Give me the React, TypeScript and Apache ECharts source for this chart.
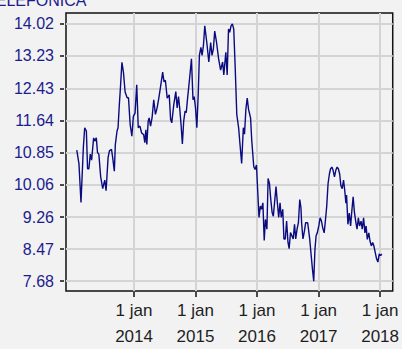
import React, { useEffect, useRef } from "react";
import * as echarts from "echarts";

const titleText = "TELEFONICA";

const dates = [
  "2013-01-26","2013-02-08","2013-02-20","2013-03-06","2013-03-14","2013-03-24","2013-03-31","2013-04-08","2013-04-16","2013-04-24",
  "2013-05-06","2013-05-13","2013-05-22","2013-05-29","2013-06-06","2013-06-17","2013-06-29","2013-07-11","2013-07-19","2013-07-31",
  "2013-08-08","2013-08-20","2013-08-27","2013-09-06","2013-09-12","2013-09-22","2013-09-28","2013-10-05","2013-10-13","2013-10-21",
  "2013-10-30","2013-11-09","2013-11-21","2013-11-29","2013-12-09","2013-12-19","2013-12-28","2014-01-07","2014-01-17","2014-01-26",
  "2014-02-05","2014-02-15","2014-02-27","2014-03-06","2014-03-12","2014-03-18","2014-03-26","2014-04-01","2014-04-09","2014-04-18",
  "2014-04-28","2014-05-08","2014-05-18","2014-05-28","2014-06-06","2014-06-20","2014-06-28","2014-07-06","2014-07-17","2014-07-29",
  "2014-08-06","2014-08-13","2014-08-25","2014-09-06","2014-09-14","2014-09-22","2014-09-29","2014-10-07","2014-10-15","2014-10-23",
  "2014-10-31","2014-11-07","2014-11-15","2014-11-27","2014-12-08","2014-12-17","2014-12-24","2015-01-01","2015-01-09","2015-01-17",
  "2015-01-24","2015-02-02","2015-02-09","2015-02-17","2015-02-25","2015-03-09","2015-03-21","2015-04-01","2015-04-09","2015-04-17",
  "2015-04-25","2015-05-06","2015-05-18","2015-05-30","2015-06-11","2015-06-18","2015-06-30","2015-07-08","2015-07-16","2015-07-23",
  "2015-07-31","2015-08-08","2015-08-16","2015-08-25","2015-09-03","2015-09-14","2015-09-22","2015-10-02","2015-10-12","2015-10-19",
  "2015-10-27","2015-11-04","2015-11-12","2015-11-24","2015-12-01","2015-12-13","2015-12-21","2015-12-29","2016-01-05","2016-01-13",
  "2016-01-21","2016-01-28","2016-02-05","2016-02-13","2016-02-20","2016-02-29","2016-03-07","2016-03-15","2016-03-23","2016-03-31",
  "2016-04-07","2016-04-16","2016-04-23","2016-05-01","2016-05-09","2016-05-17","2016-05-24","2016-06-02","2016-06-09","2016-06-17",
  "2016-06-25","2016-07-03","2016-07-10","2016-07-18","2016-07-26","2016-08-03","2016-08-11","2016-08-18","2016-08-26","2016-09-03",
  "2016-09-11","2016-09-18","2016-09-22","2016-09-30","2016-10-09","2016-10-16","2016-10-28","2016-11-09","2016-11-16","2016-11-25",
  "2016-12-03","2016-12-10","2016-12-17","2016-12-24","2017-01-02","2017-01-10","2017-01-18","2017-01-25","2017-02-03","2017-02-10",
  "2017-02-18","2017-02-26","2017-03-06","2017-03-13","2017-03-21","2017-03-28","2017-04-05","2017-04-13","2017-04-21","2017-04-28",
  "2017-05-06","2017-05-13","2017-05-21","2017-05-29","2017-06-05","2017-06-12","2017-06-16","2017-06-24","2017-07-02","2017-07-10",
  "2017-07-17","2017-07-25","2017-08-01","2017-08-09","2017-08-17","2017-08-25","2017-09-01","2017-09-10","2017-09-17","2017-09-25",
  "2017-10-03","2017-10-10","2017-10-17","2017-10-26","2017-11-02","2017-11-10","2017-11-18","2017-11-25","2017-12-03","2017-12-11",
  "2017-12-19","2017-12-27","2018-01-04","2018-01-11"
];

const prices = [
  10.91,10.57,9.62,10.97,11.46,11.38,10.45,10.45,10.81,10.66,
  11.21,11.13,11.21,10.85,10.81,10.25,9.96,10.17,9.91,10.73,
  10.89,10.93,10.73,10.39,11.05,11.38,11.46,11.98,12.50,13.07,
  12.83,12.34,12.20,12.20,11.54,11.25,11.74,11.82,12.52,11.46,
  11.50,11.33,11.29,11.09,11.41,11.05,11.62,11.70,11.50,11.70,
  12.15,11.79,11.95,12.19,12.43,12.83,12.59,12.63,12.19,12.27,
  11.67,11.58,12.03,12.35,11.95,12.23,11.95,11.55,11.06,11.63,
  11.87,11.83,12.19,12.68,13.16,12.15,12.23,11.95,11.46,12.27,
  13.24,13.44,13.24,13.48,13.97,13.56,13.08,13.56,13.24,13.40,
  13.84,13.56,13.16,12.88,13.08,12.76,13.32,12.76,13.89,13.81,
  13.97,14.02,13.89,12.90,11.79,11.46,11.06,10.58,11.46,11.30,
  11.91,12.19,11.91,11.70,11.14,10.50,10.43,10.54,9.93,9.25,
  9.53,9.45,9.61,8.68,9.20,8.96,10.21,10.09,9.69,9.37,
  9.28,9.69,10.01,9.61,9.25,9.61,9.25,9.45,8.72,8.72,
  9.16,8.64,8.48,8.88,8.80,8.72,9.08,8.72,8.96,9.12,
  9.69,9.49,9.12,8.72,8.92,9.12,9.12,8.72,8.40,7.99,
  7.68,8.45,8.80,8.87,9.04,9.24,9.16,9.00,8.87,9.16,
  9.52,10.08,10.32,10.45,10.49,10.41,10.25,10.41,10.49,10.45,
  10.32,10.04,9.96,10.17,9.92,9.60,9.80,9.08,9.36,9.04,
  9.40,9.76,9.40,9.16,8.96,9.24,9.04,9.16,8.96,9.24,
  8.87,9.04,8.71,8.87,8.67,8.55,8.63,8.55,8.39,8.23,
  8.15,8.35,8.31,8.35
];

const yTicks = [7.68, 8.47, 9.26, 10.06, 10.85, 11.64, 12.43, 13.23, 14.02];
const xTickDates = ["2014-01-01", "2015-01-01", "2016-01-01", "2017-01-01", "2018-01-01"];
const xRange = ["2012-11-23", "2018-03-17"];
const yRange = [7.438, 14.286];

export default function App() {
  const ref = useRef<HTMLDivElement>(null);
  useEffect(() => {
    document.body.style.margin = "0";
    if (!ref.current) return;
    const chart = echarts.init(ref.current, undefined, { renderer: "svg" });
    const blue = "#1c1c8e";
    const data = dates.map((d, i) => [Date.parse(d), prices[i]]);
    const xTicks = xTickDates.map((d) => Date.parse(d));
    chart.setOption({
      animation: false,
      backgroundColor: "#f2f2f2",
      textStyle: { fontFamily: "Liberation Sans" },
      graphic: [
        {
          type: "text",
          x: -14,
          y: 8,
          style: {
            text: titleText,
            fill: blue,
            font: "16px 'Liberation Sans'",
            verticalAlign: "bottom",
          },
        },
      ],
      grid: {
        left: 66,
        top: 13,
        width: 331,
        height: 283,
        show: true,
        backgroundColor: "#f2f2f2",
        borderColor: "#111",
        borderWidth: 1.5,
        containLabel: false,
      },
      xAxis: {
        type: "value",
        min: Date.parse(xRange[0]),
        max: Date.parse(xRange[1]),
        offset: 1,
        axisLine: { show: false },
        axisTick: {
          show: true,
          length: 5,
          customValues: xTicks,
          lineStyle: { color: "#111", width: 1.5 },
        },
        axisLabel: {
          customValues: xTicks,
          margin: 5,
          color: "#1e1e1e",
          fontSize: 17,
          lineHeight: 26,
          fontFamily: "Liberation Sans",
          formatter: (v: number) => "1 jan\n" + new Date(v).getUTCFullYear(),
        },
        splitLine: { show: true, lineStyle: { color: "#d4d4d4", width: 2 } },
      },
      yAxis: {
        type: "value",
        min: yRange[0],
        max: yRange[1],
        offset: 2,
        axisLine: { show: false },
        axisTick: {
          show: true,
          length: 4,
          customValues: yTicks,
          lineStyle: { color: "#111", width: 1.5 },
        },
        axisLabel: {
          customValues: yTicks,
          margin: 10,
          color: blue,
          fontSize: 16,
          fontFamily: "Liberation Sans",
          formatter: (v: number) => v.toFixed(2),
        },
        splitLine: { show: true, lineStyle: { color: "#d4d4d4", width: 2 } },
      },
      series: [
        {
          type: "line",
          data,
          showSymbol: false,
          symbol: "none",
          lineStyle: { color: "#0b0b80", width: 1.4 },
        },
      ],
    });
    return () => chart.dispose();
  }, []);
  return <div ref={ref} style={{ width: 402, height: 349 }} />;
}
